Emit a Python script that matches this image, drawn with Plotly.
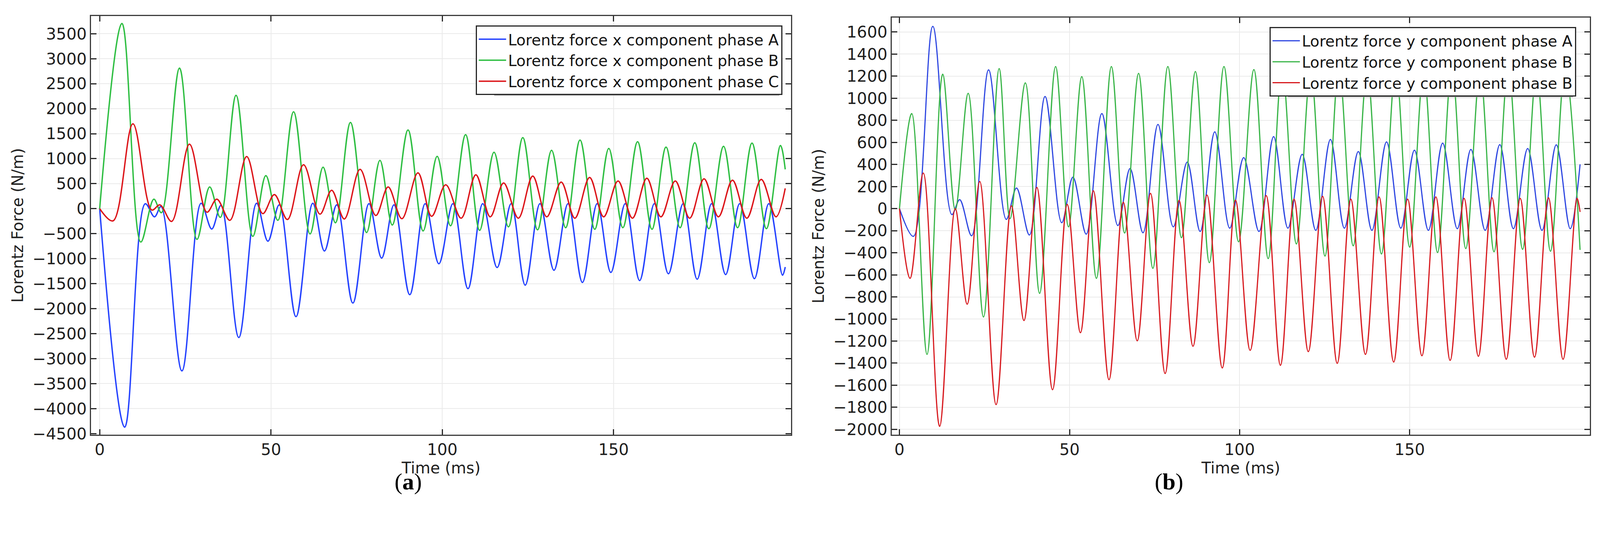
import plotly.graph_objects as go

# ---- Panel (a): x components, extrema ----
ax_t = [0, 7.3, 13.3, 16, 17.9, 24, 29.6, 32.7, 35.4, 40.6, 45.8, 49.1, 52.4, 57.3, 62.2, 65.6, 69.2, 73.9, 78.6, 82.3, 85.9, 90.5, 95.0, 99.0, 103.1,
        107.5, 111.8, 116, 120.1, 124.2, 128.5, 132.6, 136.7, 140.9, 145.2, 149.2, 153.4, 157.6, 161.9, 166, 170.3, 174.4, 178.6, 182.7, 186.8, 191.1, 195.3, 199.3, 200.1]
ax_A = [0, -4370, 98, -163, 43, -3245, 108, -407, 65, -2577, 108, -650, 76, -2160, 108, -846, 76, -1888, 100, -988, 76, -1720, 100, -1101, 100,
        -1600, 100, -1177, 100, -1530, 100, -1232, 100, -1476, 100, -1275, 100, -1438, 100, -1302, 100, -1411, 100, -1318, 100, -1400, 100, -1330, -1167]

bx_t = [0, 6.5, 12.0, 15.8, 18, 23.3, 28.4, 32.1, 35.2, 39.8, 44.7, 48.5, 52, 56.6, 61.4, 65.2, 68.8, 73.2, 77.9, 81.8, 85.4, 90, 94.4, 98.5, 102.4,
        106.8, 110.9, 115.1, 119.3, 123.5, 127.8, 131.9, 136, 140.2, 144.5, 148.6, 152.7, 157, 161.2, 165.3, 169.4, 173.7, 177.8, 182.1, 186.2, 190.4, 194.6, 198.7, 200.1]
bx_B = [0, 3706, -667, 190, -81, 2811, -613, 434, -174, 2268, -553, 662, -233, 1937, -505, 830, -282, 1725, -477, 966, -326, 1574, -445, 1047, -342,
        1481, -434, 1129, -364, 1422, -423, 1167, -380, 1373, -412, 1205, -380, 1340, -412, 1232, -380, 1318, -400, 1248, -380, 1313, -400, 1264, 787]

cx_t = [0, 3.9, 9.7, 15.2, 17.6, 21, 26.2, 31.3, 34.2, 38, 42.9, 47.6, 51, 54.8, 59.5, 64.3, 67.7, 71.4, 76, 80.6, 84.2, 88.2, 92.9, 96.9, 101,
        105.5, 109.8, 114, 117.9, 122.2, 126.4, 130.5, 134.7, 138.7, 143, 147.1, 151.3, 155.5, 159.7, 163.8, 168, 172.2, 176.4, 180.6, 184.7, 188.9, 193.1, 197.4, 200.1]
cx_C = [0, -244, 1698, -27, 76, -255, 1291, -70, 190, -233, 1042, -98, 282, -217, 879, -109, 369, -206, 787, -136, 434, -200, 716, -152, 477,
        -190, 678, -163, 515, -190, 651, -163, 532, -190, 624, -163, 553, -190, 608, -163, 553, -190, 597, -163, 570, -190, 586, -163, 407]

# ---- Panel (b): y components ----
ay_t = [0, 4.1, 9.8, 15.4, 17.7, 21.2, 26.2, 31.4, 34.4, 38.2, 42.8, 47.7, 51, 54.9, 59.5, 64.2, 67.8, 71.6, 76, 80.5, 84.6, 88.4, 92.7, 97.1, 101.2,
        105.7, 110, 114.2, 118.4, 122.4, 126.7, 130.8, 134.9, 138.9, 143.2, 147.4, 151.4, 155.5, 159.7, 164, 168, 172.2, 176.5, 180.5, 184.7, 188.9, 193.1, 197.2, 200.1]
ay_A = [0, -251, 1651, -54, 81, -246, 1257, -98, 187, -239, 1016, -128, 285, -231, 861, -153, 364, -219, 763, -165, 421, -207, 696, -177, 462,
        -207, 652, -177, 492, -197, 627, -177, 517, -197, 605, -177, 529, -197, 593, -182, 536, -197, 580, -182, 544, -197, 578, -182, 401]

by_t = [0, 3.6, 8.1, 12.7, 16.4, 20.2, 24.7, 29.3, 32.5, 37, 41.2, 45.9, 49.7, 53.6, 57.9, 62.3, 66.2, 70.3, 74.5, 78.9, 82.9, 87, 91.1, 95.4, 99.7,
        104.2, 108.4, 112.5, 116.7, 120.9, 125.1, 129.2, 133.4, 137.5, 141.7, 145.9, 150, 154.1, 158.2, 162.4, 166.5, 170.7, 174.8, 179, 183.2, 187.3, 191.4, 195.7, 200.1]
by_B = [0, 861, -1321, 1218, -10, 1045, -982, 1269, -91, 1139, -768, 1287, -165, 1196, -632, 1287, -221, 1225, -541, 1287, -263, 1242, -490, 1287, -300,
        1260, -453, 1279, -320, 1250, -430, 1285, -337, 1250, -411, 1285, -349, 1250, -398, 1285, -362, 1250, -391, 1285, -369, 1250, -386, 1280, -374]

cy_t = [0, 3.1, 7, 11.8, 16.4, 19.9, 23.6, 28.4, 32.9, 36.6, 40.4, 45, 49.3, 53.2, 57, 61.6, 65.8, 69.9, 73.8, 78.1, 82.2, 86.3, 90.4, 94.9, 98.8, 103.1,
        107.8, 112, 116, 120.2, 124.4, 128.7, 132.7, 137, 141, 145.3, 149.4, 153.6, 157.7, 161.9, 166, 170.2, 174.2, 178.4, 182.5, 186.7, 190.8, 195.1, 199.2, 200.1]
cy_C = [0, -632, 322, -1973, 0, -866, 246, -1776, 25, -1014, 192, -1641, 39, -1124, 162, -1550, 57, -1198, 138, -1494, 74, -1247, 123, -1444, 76, -1284,
        118, -1420, 86, -1296, 111, -1402, 86, -1321, 106, -1390, 86, -1333, 106, -1375, 93, -1338, 98, -1365, 93, -1346, 98, -1365, 93, -30]

labels_a = ["Lorentz force x component phase A", "Lorentz force x component phase B", "Lorentz force x component phase C"]
labels_b = ["Lorentz force y component phase A", "Lorentz force y component phase B", "Lorentz force y component phase B"]
colors_a = ["rgb(35,65,255)", "rgb(45,190,65)", "rgb(220,20,25)"]
colors_b = ["rgb(45,70,225)", "rgb(55,180,70)", "rgb(215,25,30)"]

fig = go.Figure()
for t, v, name, c in zip([ax_t, bx_t, cx_t], [ax_A, bx_B, cx_C], labels_a, colors_a):
    fig.add_trace(go.Scatter(x=t, y=v, name=name, mode="lines",
                             line=dict(color=c, width=3.5, shape="spline", smoothing=1.0),
                             xaxis="x", yaxis="y", legend="legend"))
for t, v, name, c in zip([ay_t, by_t, cy_t], [ay_A, by_B, cy_C], labels_b, colors_b):
    fig.add_trace(go.Scatter(x=t, y=v, name=name, mode="lines",
                             line=dict(color=c, width=3, shape="spline", smoothing=1.0),
                             xaxis="x2", yaxis="y2", legend="legend2"))

W, H = 4365, 1430
font = "DejaVu Sans"
axcommon = dict(showgrid=True, gridcolor="rgb(234,234,234)", gridwidth=2, zeroline=False,
                showline=True, linecolor="rgb(60,60,60)", linewidth=3, mirror="ticks",
                ticks="inside", ticklen=14, tickwidth=3, tickcolor="rgb(40,40,40)",
                tickfont=dict(family=font, size=41, color="rgb(30,30,30)"))
tfont = dict(family=font, size=40, color="rgb(30,30,30)")
lfont = dict(family=font, size=39, color="rgb(20,20,20)")

fig.update_layout(
    autosize=True, margin=dict(l=0, r=0, t=0, b=0),
    paper_bgcolor="white", plot_bgcolor="white",
    xaxis=dict(domain=[241 / W, 2158 / W], range=[-2.5, 201.8], tickvals=[0, 50, 100, 150],
               title=dict(text="Time (ms)", font=tfont, standoff=2), anchor="y", **axcommon),
    yaxis=dict(domain=[1 - 1134 / H, 1 - 34 / H], range=[-4520, 3853], dtick=500,
               title=dict(text="Lorentz Force (N/m)", font=tfont, standoff=12), anchor="x", **axcommon),
    xaxis2=dict(domain=[2434 / W, 4346 / W], range=[-2.25, 203], tickvals=[0, 50, 100, 150],
                title=dict(text="Time (ms)", font=tfont, standoff=2), anchor="y2", **axcommon),
    yaxis2=dict(domain=[1 - 1134 / H, 1 - 38 / H], range=[-2048, 1731], dtick=200,
                title=dict(text="Lorentz Force (N/m)", font=tfont, standoff=12), anchor="x2", **axcommon),
    legend=dict(x=2134 / W, y=1 - 59 / H, xanchor="right", yanchor="top", bgcolor="white",
                bordercolor="rgb(40,40,40)", borderwidth=3, font=lfont, tracegroupgap=0, itemwidth=70),
    legend2=dict(x=4308 / W, y=1 - 63 / H, xanchor="right", yanchor="top", bgcolor="white",
                 bordercolor="rgb(40,40,40)", borderwidth=3, font=lfont, tracegroupgap=0, itemwidth=70),
    showlegend=True,
)

# thin legend drop shadows (left/bottom)
fig.add_shape(type="rect", xref="paper", yref="paper", x0=1345 / W, x1=2126 / W, y0=1 - 243 / H, y1=1 - 67 / H,
              fillcolor="rgb(150,150,150)", line=dict(width=0), layer="above")
fig.add_shape(type="rect", xref="paper", yref="paper", x0=3519 / W, x1=4300 / W, y0=1 - 247 / H, y1=1 - 71 / H,
              fillcolor="rgb(150,150,150)", line=dict(width=0), layer="above")

fig.add_annotation(text="(<b>a</b>)", x=1070 / W, y=1 - 1293 / H, xref="paper", yref="paper", showarrow=False,
                   font=dict(family="Liberation Serif", size=60, color="black"))
fig.add_annotation(text="(<b>b</b>)", x=3234 / W, y=1 - 1293 / H, xref="paper", yref="paper", showarrow=False,
                   font=dict(family="Liberation Serif", size=60, color="black"))

fig.write_html("out.html", config={"responsive": True})
